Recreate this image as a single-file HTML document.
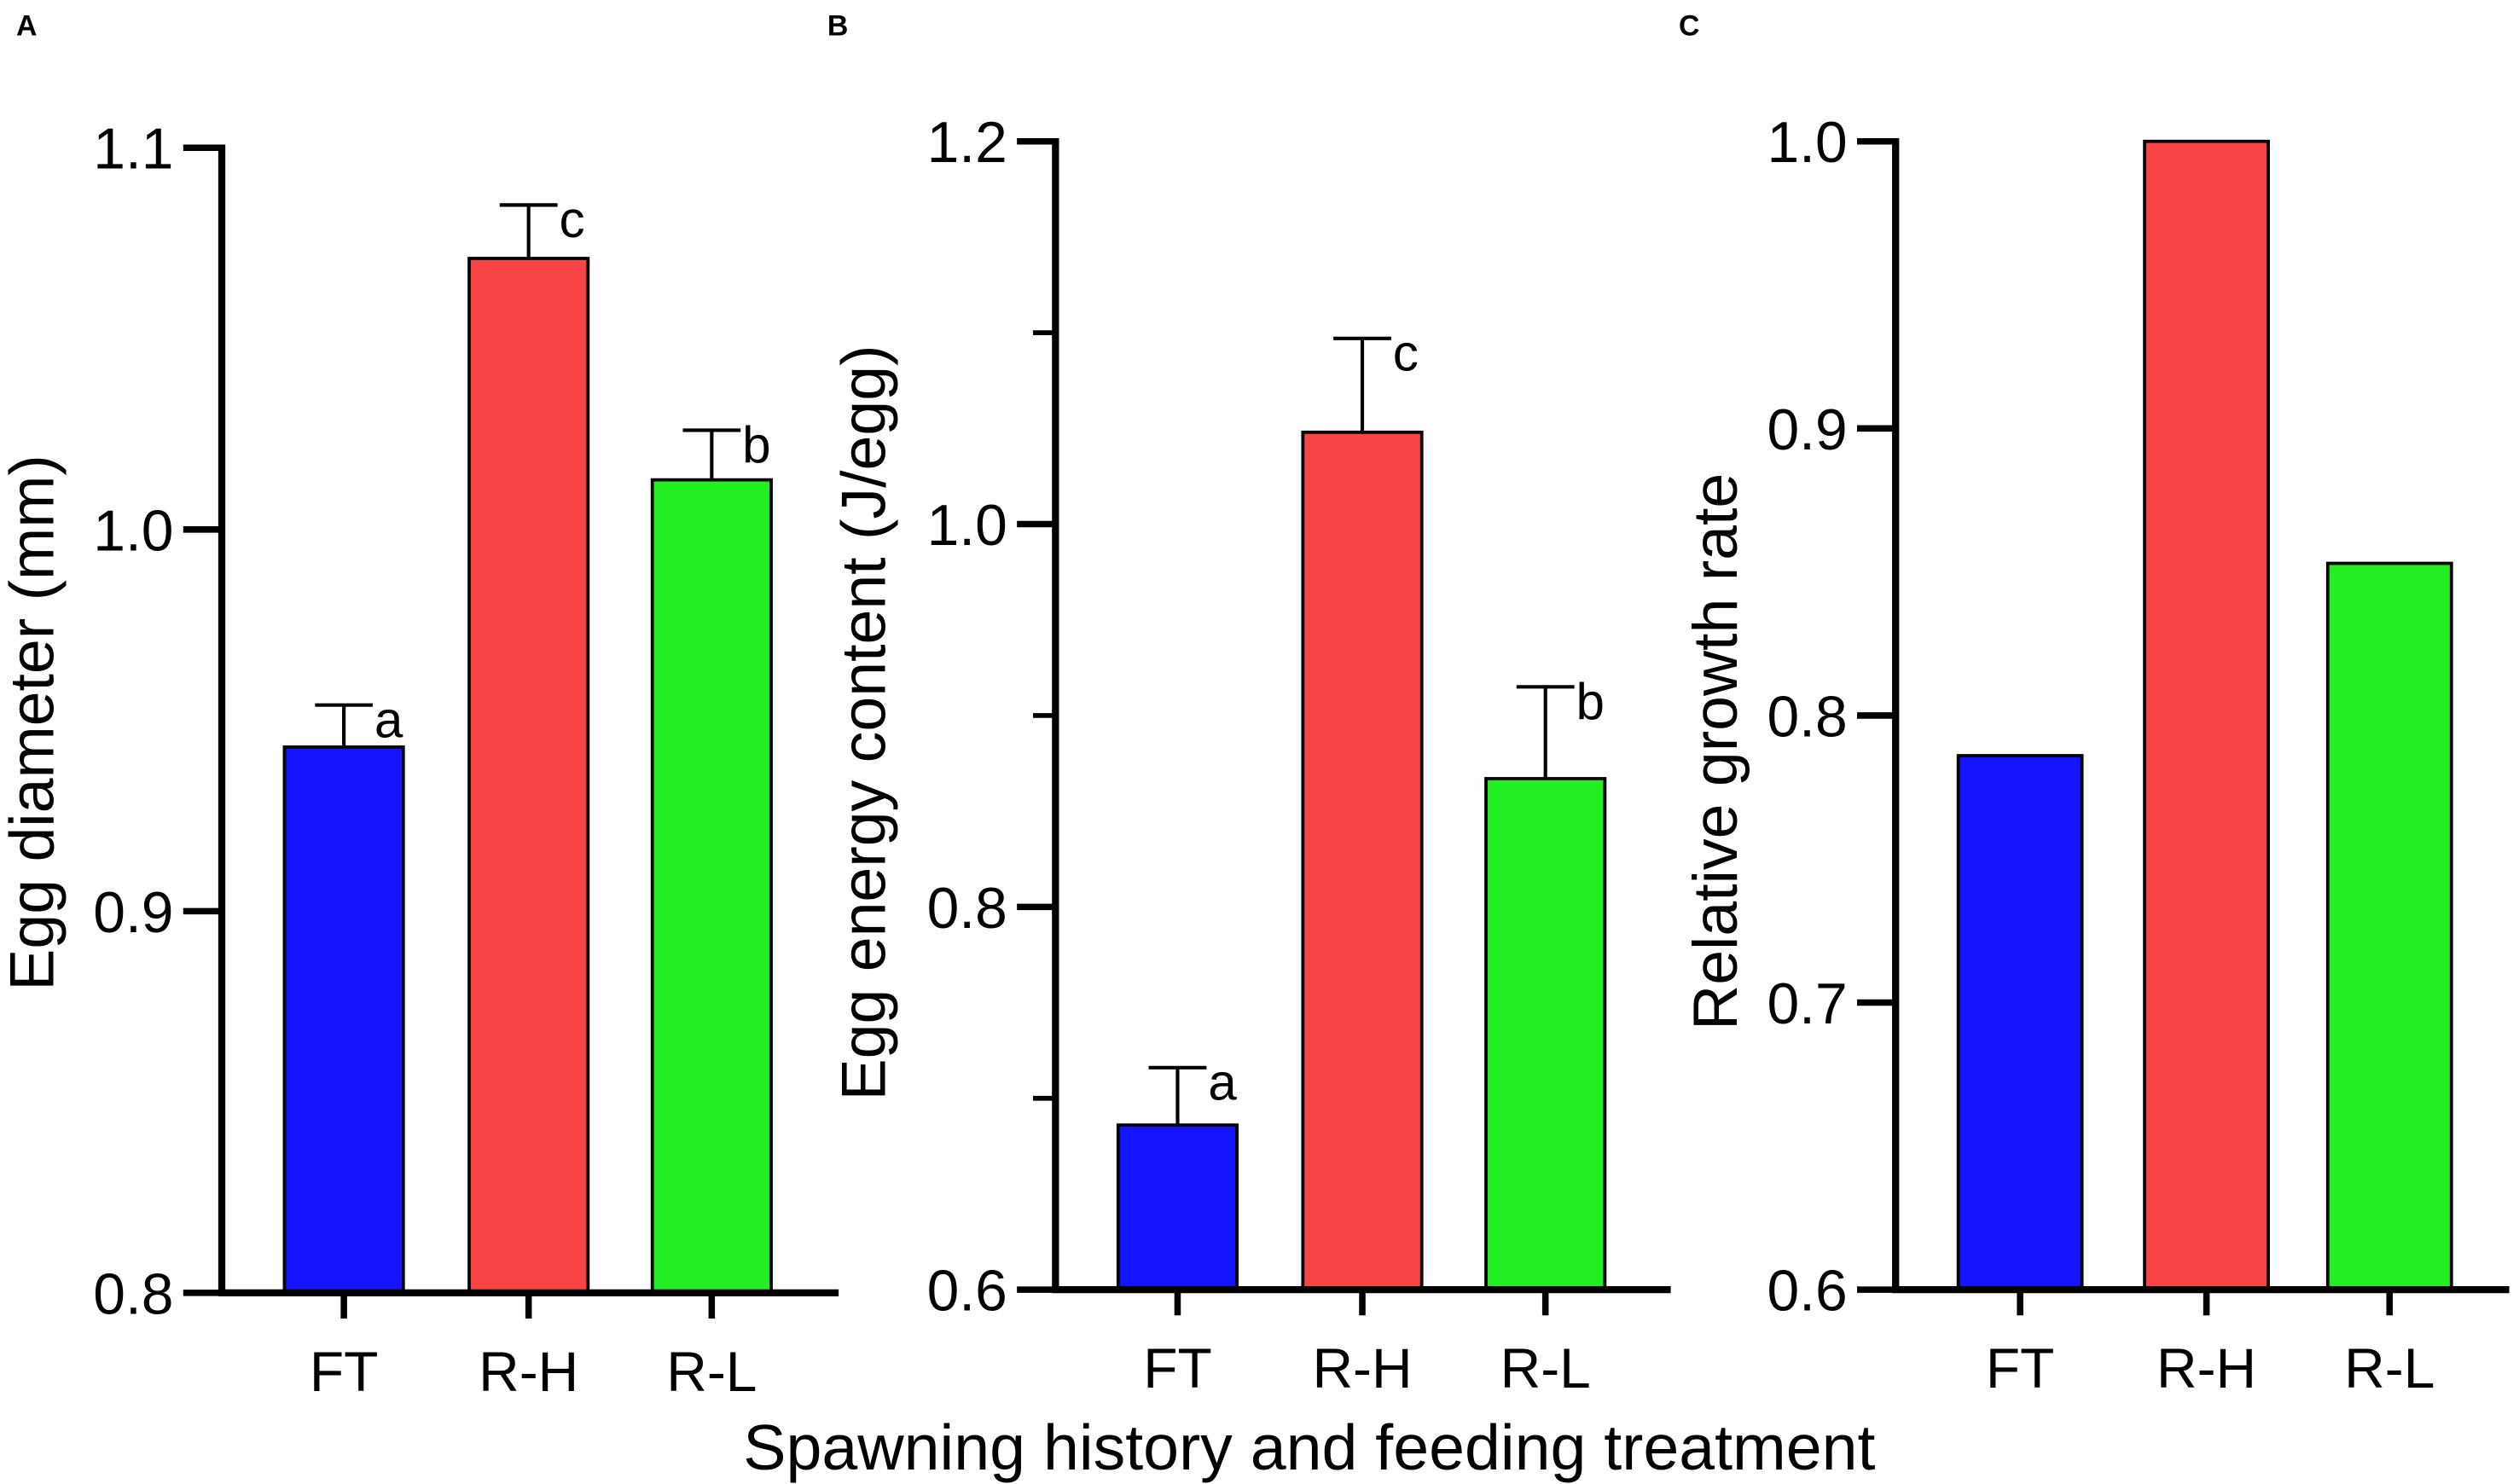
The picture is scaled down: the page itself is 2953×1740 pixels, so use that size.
<!DOCTYPE html>
<html><head><meta charset="utf-8"><style>
html,body{margin:0;padding:0;background:#fff}
svg{display:block}
text{font-family:"Liberation Sans",Arial,sans-serif;fill:#000}
</style></head><body>
<svg id="chart" width="2953" height="1740" viewBox="0 0 1568 924" xmlns="http://www.w3.org/2000/svg"></svg>
<script>
const categories = ["FT","R-H","R-L"];
const colors = ["#1414ff","#f84444","#22ee22"];
const valuesA = [0.943,1.071,1.013];
const errorsA = [0.011,0.014,0.013];
const lettersA = ["a","c","b"];
const ticksA = [0.8,0.9,1.0,1.1];
const valuesB = [0.686,1.048,0.867];
const errorsB = [0.030,0.049,0.048];
const lettersB = ["a","c","b"];
const ticksB = [0.6,0.8,1.0,1.2];
const minorB = [0.7,0.9,1.1];
const valuesC = [0.786,1.0,0.853];
const ticksC = [0.6,0.7,0.8,0.9,1.0];

const svg = document.getElementById('chart');
const NS = "http://www.w3.org/2000/svg";
function mk(tag, attrs, parent){const e=document.createElementNS(NS,tag);for(const k in attrs)e.setAttribute(k,attrs[k]);(parent||svg).appendChild(e);return e;}

function panel(p){
  const g = mk('g',{});
  
  
  const y = v => p.yBot - (v - p.min)/(p.max - p.min)*(p.yBot - p.yTop);
  const L = mk('text',{x:p.letterX,y:22,'font-size':18,'font-weight':'bold'},g);
  L.textContent = p.id;
  
  
  p.values.forEach((v,i)=>{
    const x0 = p.barX[i];
    const r = mk('rect',{x:x0,y:y(v),width:p.barW,height:p.yBot-y(v),fill:colors[i],stroke:'#000','stroke-width':2},g);
    
    
    if(p.errors){
      const cx = x0+p.barW/2, ty = y(v+p.errors[i]);
      const e = mk('path',{d:`M${cx},${y(v)} V${ty} M${cx-18},${ty} H${cx+18}`,stroke:'#000','stroke-width':2.2,fill:'none'},g);
      
      
      const t = mk('text',{x:cx+19,y:ty+20,'font-size':32},g);
      t.textContent = p.letters[i];
      
      
    }
    const cx = x0+p.barW/2;
    mk('line',{x1:cx,y1:p.yBot,x2:cx,y2:p.yBot+16,stroke:'#000','stroke-width':4},g);
    const cl = mk('text',{x:cx,y:p.yBot+61,'font-size':35,'text-anchor':'middle'},g);
    cl.textContent = categories[i];
    
    
  });
  const ax = mk('path',{d:`M${p.axX},${p.yTop-2} V${p.yBot} H${p.xEnd}`,stroke:'#000','stroke-width':4.4,fill:'none'},g);
  
  
  p.ticks.forEach(t=>{
    mk('line',{x1:p.axX-24,y1:y(t),x2:p.axX,y2:y(t),stroke:'#000','stroke-width':4},g);
    const tl = mk('text',{x:p.axX-30,y:y(t)+13,'font-size':36,'text-anchor':'end'},g);
    tl.textContent = t.toFixed(1);
    
    
  });
  (p.minor||[]).forEach(t=>{
    mk('line',{x1:p.axX-14,y1:y(t),x2:p.axX,y2:y(t),stroke:'#000','stroke-width':3},g);
  });
  const yt = mk('text',{x:0,y:0,'font-size':39,'text-anchor':'middle',transform:`translate(${p.titleX},${p.titleY}) rotate(-90)`},g);
  yt.textContent = p.title;
  
  
}
panel({id:'A',letterX:10,min:0.8,max:1.1,yTop:92,yBot:805,axX:138,xEnd:522,barX:[177,292,406],barW:74,values:valuesA,errors:errorsA,letters:lettersA,ticks:ticksA,title:'Egg diameter (mm)',titleX:33,titleY:450});
panel({id:'B',letterX:515,min:0.6,max:1.2,yTop:88,yBot:803,axX:657,xEnd:1040,barX:[696,811,925],barW:74,values:valuesB,errors:errorsB,letters:lettersB,ticks:ticksB,minor:minorB,title:'Egg energy content (J/egg)',titleX:551,titleY:450});
panel({id:'C',letterX:1045,min:0.6,max:1.0,yTop:88,yBot:803,axX:1180,xEnd:1562,barX:[1219,1335,1449],barW:77,values:valuesC,ticks:ticksC,title:'Relative growth rate',titleX:1081,titleY:468});
const xt = mk('text',{x:815,y:915,'font-size':40,'text-anchor':'middle'});
xt.textContent = 'Spawning history and feeding treatment';


</script>
</body></html>
